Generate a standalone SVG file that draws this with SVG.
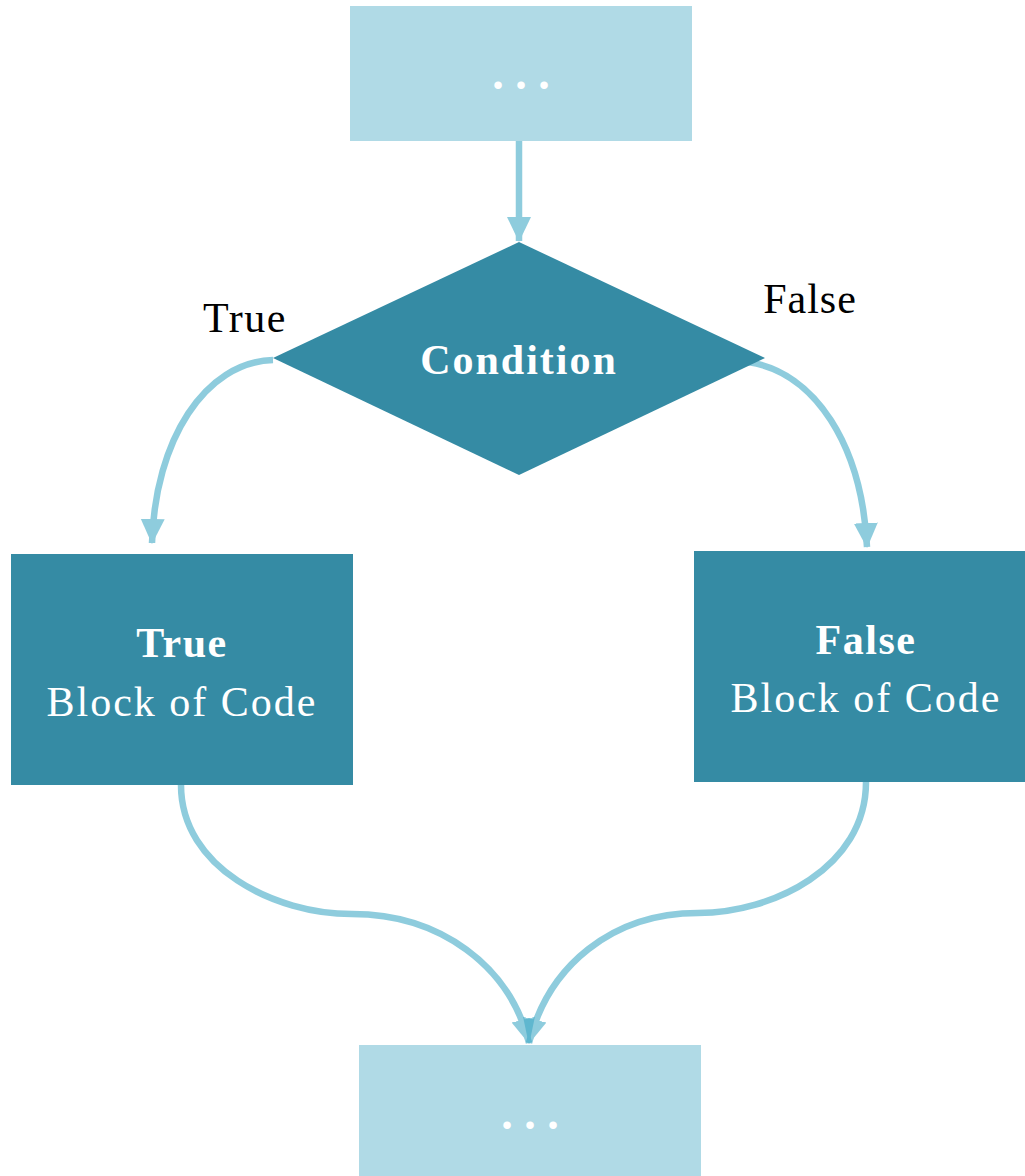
<svg xmlns="http://www.w3.org/2000/svg" width="1025" height="1176" viewBox="0 0 1025 1176">
<style>
  .light { fill: #b0dae6; }
  .dark { fill: #358ba4; }
  .t { font-family: "Liberation Serif", "Times New Roman", serif; font-size: 42px; text-anchor: middle; }
  .w { fill: #ffffff; }
  .b { font-weight: bold; }
  .dots { font-size: 46px; font-weight: bold; }
  .edge { fill: none; stroke: #3ea8c5; stroke-width: 6.5; opacity: 0.58; marker-end: url(#arr); }
</style>
<defs>
  <marker id="arr" markerUnits="userSpaceOnUse" markerWidth="26" markerHeight="26" viewBox="0 0 26 26" refX="24" refY="13" orient="auto">
    <path d="M0,1 L25,13 L0,25 Z" fill="#3ea8c5"/>
  </marker>
</defs>
<g id="connectors">
  <path class="edge" d="M519,141 L519,241"/>
  <path class="edge" d="M273,360 C205,362 155,440 152,543"/>
  <path class="edge" d="M748,362 C815,372 862,445 867,547"/>
  <path class="edge" d="M181,785 C181,868 275,914 352,914 C440,914 510,966 529,1043"/>
  <path class="edge" d="M866,782 C866,868 772,913 698,913 C612,913 548,966 529,1043"/>
</g>
<g id="start">
  <rect class="light" x="350" y="6" width="342" height="135"/>
  <text class="t w dots" x="521" y="89" letter-spacing="0">. . .</text>
</g>
<g id="condition">
  <polygon class="dark" points="519,242 765,358 519,475 273,358"/>
  <text class="t w b" x="519" y="374" letter-spacing="2">Condition</text>
</g>
<g id="label-true">
  <text class="t" x="245" y="332" letter-spacing="1.5">True</text>
</g>
<g id="label-false">
  <text class="t" x="810" y="313" letter-spacing="1">False</text>
</g>
<g id="true-block">
  <rect class="dark" x="11" y="554" width="342" height="231"/>
  <text class="t w b" x="182" y="657" letter-spacing="1.5">True</text>
  <text class="t w" x="182" y="716" letter-spacing="2">Block of Code</text>
</g>
<g id="false-block">
  <rect class="dark" x="694" y="551" width="331" height="231"/>
  <text class="t w b" x="866" y="654" letter-spacing="1.5">False</text>
  <text class="t w" x="866" y="712" letter-spacing="2">Block of Code</text>
</g>
<g id="end">
  <rect class="light" x="359" y="1045" width="342" height="131"/>
  <text class="t w dots" x="530" y="1129" letter-spacing="0">. . .</text>
</g>
</svg>
